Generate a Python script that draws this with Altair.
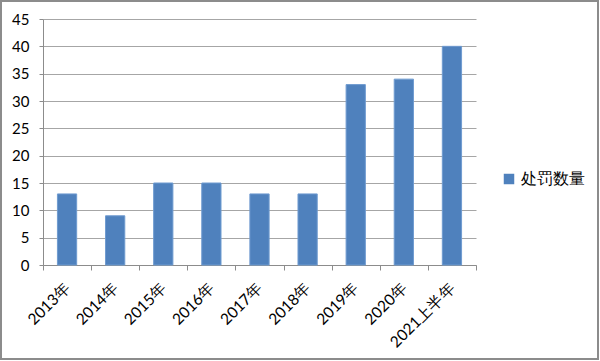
import altair as alt
import pandas as pd

years = ["2013年", "2014年", "2015年", "2016年", "2017年", "2018年", "2019年", "2020年", "2021上半年"]
counts = [13, 9, 15, 15, 13, 13, 33, 34, 40]
series_name = "处罚数量"
y_ticks = [0, 5, 10, 15, 20, 25, 30, 35, 40, 45]

df = pd.DataFrame({"year": years, "count": counts, "series": [series_name] * len(years)})

FONT = "Lato"

bars = alt.Chart(df).mark_bar(
    width=alt.RelativeBandSize(0.4), stroke="#6f9bd0", strokeWidth=1
).encode(
    x=alt.X("year:N", sort=years, title=None,
            scale=alt.Scale(paddingInner=0, paddingOuter=0),
            axis=alt.Axis(labelAngle=-45, labelAlign="right", labelBaseline="middle",
                          tickBand="extent", tickSize=5, labelPadding=15,
                          domainColor="#8c8c8c", tickColor="#8c8c8c",
                          labelFontSize=15.5, labelColor="#000000", labelFont=FONT,
                          grid=False)),
    y=alt.Y("count:Q", title=None,
            scale=alt.Scale(domain=[0, 45], nice=False),
            axis=alt.Axis(values=y_ticks, tickSize=4, labelPadding=10,
                          domainColor="#8c8c8c", tickColor="#8c8c8c",
                          gridColor="#a6a6a6", grid=True,
                          labelFontSize=15, labelColor="#000000", labelFont=FONT)),
    color=alt.Color("series:N", title=None,
                    scale=alt.Scale(range=["#4f81bd"]),
                    legend=alt.Legend(orient="none", legendX=458, legendY=152,
                                      symbolType="square", symbolSize=110,
                                      symbolStrokeWidth=0,
                                      labelFontSize=16, labelFont=FONT,
                                      labelColor="#000000")),
)

border = alt.Chart(pd.DataFrame({"a": [0]})).mark_rect(
    fill=None, stroke="#8c8c8c", strokeWidth=2
).encode(
    x=alt.value(-42), x2=alt.value(555), y=alt.value(-18), y2=alt.value(340)
)

chart = alt.layer(bars, border).properties(
    width=433, height=246,
    autosize=alt.AutoSizeParams(type="none"),
    padding={"left": 43, "top": 19, "right": 124, "bottom": 96},
    background="#ffffff",
).configure_view(stroke=None)

chart.save("out.html", embed_options={"renderer": "svg", "actions": False})
